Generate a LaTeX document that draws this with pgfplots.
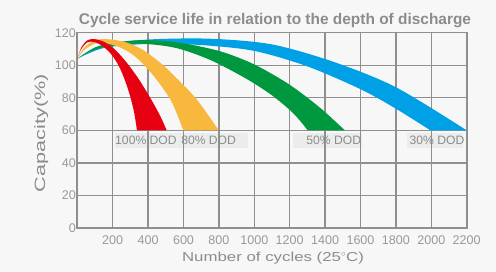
\documentclass[border=0pt]{standalone}
\usepackage{fontspec}
\setmainfont{Liberation Sans}
\newfontfamily\wide[FakeStretch=1.3]{Liberation Sans}
\newfontfamily\widey[FakeStretch=1.45]{Liberation Sans}
\usepackage{pgfplots}
\pgfplotsset{compat=1.18}
\usepgfplotslibrary{fillbetween}
\definecolor{bgc}{HTML}{F7F7F7}
\definecolor{gridc}{HTML}{8F8F8F}
\definecolor{tickc}{HTML}{999999}
\definecolor{labc}{HTML}{8C8C8C}
\definecolor{boxc}{HTML}{EBECEC}
\definecolor{redc}{HTML}{E60012}
\definecolor{orc}{HTML}{F8B83E}
\definecolor{grc}{HTML}{00983F}
\definecolor{blc}{HTML}{00A0E6}
\begin{document}
\begin{tikzpicture}
\begin{axis}[
  set layers,
  at={(0,0)}, anchor=south west,
  scale only axis, width=389.4bp, height=195.3bp,
  xmin=0, xmax=2200, ymin=0, ymax=120,
  xtick={200,400,...,2200}, ytick={0,20,...,120},
  grid=major, grid style={gridc, line width=1.3bp},
  axis line style={gridc, line width=1.6bp},
  major tick length=0pt,
  tick label style={font=\fontsize{12.6}{14}\selectfont, text=tickc},
  xticklabel style={yshift=-4.5bp},
  yticklabel style={xshift=2bp},
  /pgf/number format/assume math mode=true,
  /pgf/number format/1000 sep={},
]
% blue 30% DOD
\addplot[draw=none, smooth, name path=bA] coordinates {(0,104) (150,112.3) (400,115.8) (750,116.3) (1100,112.8) (1450,102) (1800,86.5) (2200,60)};
\addplot[draw=none, smooth, name path=bB] coordinates {(0,104) (150,110.6) (400,113.1) (700,112.4) (1000,108.8) (1300,99.3) (1600,85.3) (1800,73.3) (1995,60)};
\addplot[blc] fill between[of=bA and bB];

% green 50% DOD
\addplot[draw=none, smooth, name path=gA] coordinates {(0,104) (120,111.8) (330,115.3) (550,114.3) (800,108.8) (1000,100.5) (1200,88) (1370,74) (1512,60)};
\addplot[draw=none, smooth, name path=gB] coordinates {(0,104) (120,110.4) (330,113.3) (550,110.8) (750,103.3) (950,92) (1100,81.5) (1220,70.5) (1302,60)};
\addplot[grc] fill between[of=gA and gB];

% orange 80% DOD
\addplot[draw=none, smooth, name path=oA] coordinates {(0,104) (40,111) (100,115.3) (170,116) (270,114.3) (370,109.5) (480,100.5) (580,90) (680,78.3) (799,60)};
\addplot[draw=none, smooth, name path=oB] coordinates {(0,104) (40,109.5) (100,113.2) (160,113.5) (240,111) (320,106) (400,97.5) (480,86.5) (540,76) (599,60)};
\addplot[orc] fill between[of=oA and oB];

% red 100% DOD
\addplot[draw=none, smooth, name path=rA] coordinates {(0,104) (25,111.5) (60,115.5) (100,116) (150,114.5) (210,110) (280,101.5) (350,91) (420,78.5) (470,68.5) (505,60)};
\addplot[draw=none, smooth, name path=rB] coordinates {(0,104) (20,109.5) (55,114) (95,114.3) (140,112) (190,107) (235,99.5) (270,90.5) (300,80.5) (322,70.5) (337,60)};
\addplot[redc] fill between[of=rA and rB];

\node[text=labc, font=\fontsize{12.2}{14}\selectfont] at (axis cs:388,53.8) {100\% DOD};
\node[text=labc, font=\fontsize{12.2}{14}\selectfont] at (axis cs:742,53.8) {80\% DOD};
\node[text=labc, font=\fontsize{12.2}{14}\selectfont] at (axis cs:1449,53.8) {50\% DOD};
\node[text=labc, font=\fontsize{12.2}{14}\selectfont] at (axis cs:2032,53.8) {30\% DOD};
\end{axis}
\begin{pgfonlayer}{axis background}
\fill[bgc] (-77.3bp,-44bp) rectangle (418.7bp,228bp);
\fill[boxc] (37.7bp,79.7bp) rectangle (170.7bp,95.3bp);
\fill[boxc] (216bp,79.7bp) rectangle (284.4bp,95.3bp);
\fill[boxc] (329.4bp,79.7bp) rectangle (386bp,95.3bp);
\end{pgfonlayer}
\node[anchor=base, text=labc, font=\bfseries\fontsize{15.5}{18}\selectfont, inner sep=0pt] at (197.7bp,203.3bp) {Cycle service life in relation to the depth of discharge};
\node[anchor=base, text=labc, font=\wide\fontsize{13}{16}\selectfont, inner sep=0pt] at (195.7bp,-33bp) {Number of cycles (25$^{\circ}$C)};
\node[anchor=base, rotate=90, text=labc, font=\widey\fontsize{15}{18}\selectfont, inner sep=0pt] at (-32.3bp,95bp) {Capacity(\%)};
\end{tikzpicture}
\end{document}
